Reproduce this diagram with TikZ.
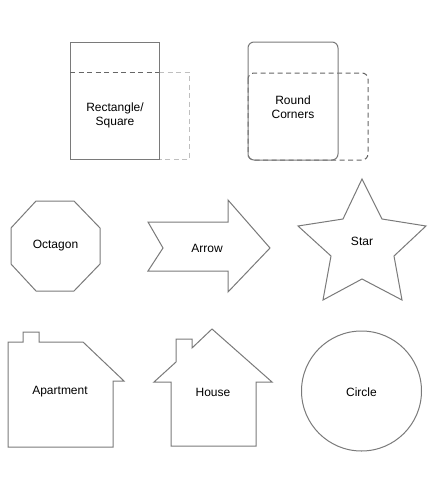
\documentclass[tikz,border=0pt]{standalone}
\usepackage{fontspec}
\setmainfont{Liberation Sans}
\begin{document}
\begin{tikzpicture}[x=1pt,y=-1pt,
  shapeline/.style={draw=black!52, line width=1pt, line join=miter},
  darkdash/.style={draw=black!60, line width=1pt, dash pattern=on 5pt off 3.5pt},
  lightdash/.style={draw=black!25, line width=1pt, dash pattern=on 5pt off 3.5pt},
  lbl/.style={font=\fontsize{12}{14}\selectfont, align=center, text=black, inner sep=0pt}]
\path[fill=white] (0,0) rectangle (433,498);
% Rectangle / Square
\draw[lightdash] (159,72) -- (189,72) -- (189,159) -- (159,159);
\draw[shapeline] (70,42) rectangle (159,159);
\draw[darkdash] (70,72) -- (159,72);
\node[lbl] (rect) at (115,115) {Rectangle/\\Square};
% Round corners
\draw[darkdash, rounded corners=6pt] (248,73) rectangle (368,160);
\draw[shapeline, rounded corners=6pt] (248,42) rectangle (338,160);
\node[lbl] (round) at (293,107) {Round\\Corners};
% Octagon
\draw[shapeline] (36,201) -- (74,201) -- (100,228) -- (100,264) -- (74,291) -- (36,291) -- (11,264) -- (11,228) -- cycle;
\node[lbl] (oct) at (55.5,246) {Octagon};
% Arrow
\draw[shapeline] (148,222) -- (228,222) -- (228,200) -- (270,248) -- (228,292) -- (228,271) -- (148,271) -- (163,248) -- cycle;
\node[lbl] (arrow) at (207,248) {Arrow};
% Star
\draw[shapeline] (362,179) -- (382,219) -- (426,226) -- (394,256) -- (402,300) -- (362,279) -- (323,300) -- (331,256) -- (298,226) -- (343,219) -- cycle;
\node[lbl] (star) at (362,241) {Star};
% Apartment
\draw[shapeline] (8,447) -- (8,342) -- (23,342) -- (23,332) -- (39,332) -- (39,342) -- (83,342) -- (124,381) -- (113,381) -- (113,447) -- cycle;
\node[lbl] (apt) at (60,392) {Apartment};
% House
\draw[shapeline] (171,446) -- (171,382) -- (154,382) -- (176,362) -- (176,339) -- (192,339) -- (192,348) -- (212,329) -- (272,382) -- (256,382) -- (256,446) -- cycle;
\node[lbl] (house) at (213,392) {House};
% Circle
\draw[shapeline] (361.5,391) circle (60);
\node[lbl] (circ) at (361.5,392) {Circle};
\end{tikzpicture}
\end{document}
